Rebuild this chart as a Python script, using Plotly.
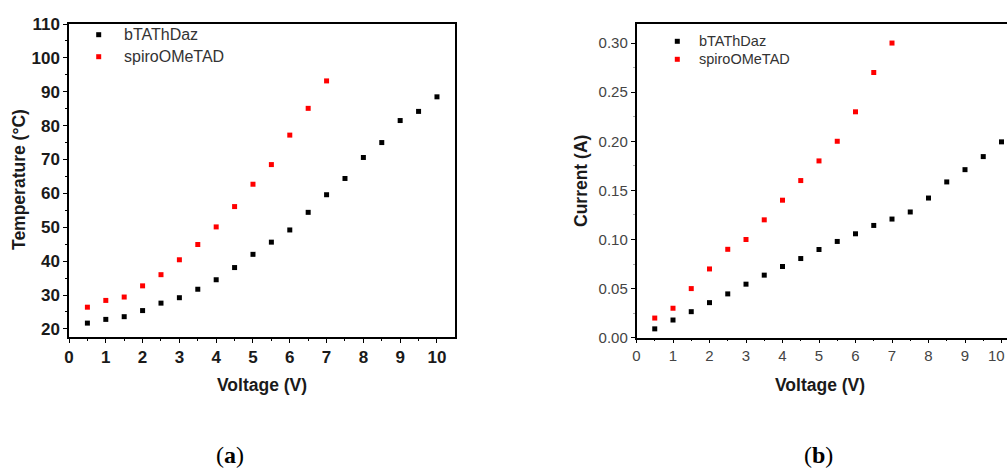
import plotly.graph_objects as go

voltage_b = [0.5, 1, 1.5, 2, 2.5, 3, 3.5, 4, 4.5, 5, 5.5, 6, 6.5, 7, 7.5, 8, 8.5, 9, 9.5, 10]
voltage_s = [0.5, 1, 1.5, 2, 2.5, 3, 3.5, 4, 4.5, 5, 5.5, 6, 6.5, 7]

temp_b = [21.7, 22.8, 23.6, 25.4, 27.6, 29.2, 31.7, 34.5, 38.1, 42.0, 45.6, 49.2, 54.4, 59.6,
          64.4, 70.6, 75.0, 81.5, 84.2, 88.5]
temp_s = [26.4, 28.4, 29.4, 32.7, 36.0, 40.4, 44.9, 50.1, 56.1, 62.7, 68.5, 77.2, 85.1, 93.2]

curr_b = [0.009, 0.018, 0.0265, 0.0357, 0.0446, 0.0545, 0.0637, 0.0725, 0.0806, 0.0898, 0.098,
          0.1058, 0.1143, 0.1208, 0.128, 0.1422, 0.1586, 0.1711, 0.1844, 0.1994]
curr_s = [0.020, 0.030, 0.050, 0.070, 0.090, 0.100, 0.120, 0.140, 0.160, 0.180, 0.200, 0.230,
          0.270, 0.300]

names = ["bTAThDaz", "spiroOMeTAD"]
colors = ["#000000", "#ff0000"]

W, H = 1007, 468
fig = go.Figure()

mk = dict(symbol="square", size=5, line=dict(width=0))
fig.add_trace(go.Scatter(x=voltage_b, y=temp_b, mode="markers", marker=dict(color=colors[0], **mk),
                         xaxis="x", yaxis="y", showlegend=False, cliponaxis=False))
fig.add_trace(go.Scatter(x=voltage_s, y=temp_s, mode="markers", marker=dict(color=colors[1], **mk),
                         xaxis="x", yaxis="y", showlegend=False, cliponaxis=False))
fig.add_trace(go.Scatter(x=voltage_b, y=curr_b, mode="markers", marker=dict(color=colors[0], **mk),
                         xaxis="x2", yaxis="y2", showlegend=False, cliponaxis=False))
fig.add_trace(go.Scatter(x=voltage_s, y=curr_s, mode="markers", marker=dict(color=colors[1], **mk),
                         xaxis="x2", yaxis="y2", showlegend=False, cliponaxis=False))

def px(x):
    return x / W

def py(y):
    return 1 - y / H

FAM = "Liberation Sans, Arial"
titlefont = dict(family=FAM, size=17.5, color="#1a1a1a")
tickbold = dict(family=FAM, size=17, color="#1a1a1a")
regfont = dict(family=FAM, size=15, color="#444444")

axcommon = dict(showgrid=False, zeroline=False, showline=True, linecolor="#000", linewidth=1.5,
                ticks="outside", ticklen=4, tickcolor="#000", tickwidth=1, automargin=False)

fig.update_layout(
    width=W, height=H, margin=dict(l=0, r=0, t=0, b=0, autoexpand=False),
    paper_bgcolor="white", plot_bgcolor="white", showlegend=False,
    xaxis=dict(domain=[px(69), px(455)], range=[0, 10.49], dtick=1, tick0=0,
               mirror=True, tickfont=tickbold, tickprefix="<b>", ticksuffix="</b>",
               minor=dict(ticks="outside", ticklen=2, dtick=0.5, tickcolor="#000"),
               anchor="y", **axcommon),
    yaxis=dict(domain=[py(337), py(24)], range=[17.6, 110], dtick=10, tick0=0,
               mirror=True, tickfont=tickbold, tickprefix="<b>", ticksuffix="</b>",
               minor=dict(ticks="outside", ticklen=2, dtick=5, tickcolor="#000"),
               anchor="x", **axcommon),
    xaxis2=dict(domain=[px(636.5), 1.0], range=[0, (W - 636.5) / 36.5], dtick=1, tick0=0,
                mirror=True, tickfont=regfont,
                minor=dict(ticks="outside", ticklen=2, dtick=0.5, tickcolor="#000"),
                anchor="y2", **axcommon),
    yaxis2=dict(domain=[py(337.7), py(24)], range=[0, 0.3194], dtick=0.05, tick0=0,
                tickformat=".2f", mirror=False, tickfont=regfont,
                minor=dict(ticks="outside", ticklen=2, dtick=0.025, tickcolor="#aaa"),
                anchor="x2", **axcommon),
)

# Axis titles
axis_titles = [
    ("<b>Voltage (V)</b>", 262, 385, 0),
    ("<b>Temperature (°C)</b>", 19, 180, -90),
    ("<b>Voltage (V)</b>", 820, 385, 0),
    ("<b>Current (A)</b>", 581, 181, -90),
]
for txt, cx, cy, ang in axis_titles:
    fig.add_annotation(x=px(cx), y=py(cy), xref="paper", yref="paper", text=txt, textangle=ang,
                       showarrow=False, xanchor="center", yanchor="middle", font=titlefont)

# Last tick label on the right panel (sits at the page edge)
fig.add_annotation(x=1.0, y=py(355), xref="paper", yref="paper", text="10", showarrow=False,
                   xanchor="right", yanchor="middle", font=regfont)

# Legends drawn as annotations + marker shapes in paper coordinates
legend_specs = [
    (98.7, [34.7, 56.7], 122, 16),
    (677.3, [41.3, 59.3], 697, 14.5),
]
for lx, lys, tx, fs in legend_specs:
    for name, col, ly in zip(names, colors, lys):
        fig.add_shape(type="rect", xref="paper", yref="paper",
                      x0=px(lx - 2.5), x1=px(lx + 2.5), y0=py(ly + 2.5), y1=py(ly - 2.5),
                      fillcolor=col, line=dict(width=0))
        fig.add_annotation(x=px(tx), y=py(ly), xref="paper", yref="paper", text=name,
                           showarrow=False, xanchor="left", yanchor="middle",
                           font=dict(family=FAM, size=fs, color="#333333"))

# Panel labels
for label, cx in [("a", 230), ("b", 818)]:
    fig.add_annotation(x=px(cx), y=py(455), xref="paper", yref="paper",
                       text=f"(<b>{label}</b>)", showarrow=False, xanchor="center", yanchor="middle",
                       font=dict(family="Liberation Serif, Times New Roman", size=24, color="#000"))

fig.write_html("out.html")
